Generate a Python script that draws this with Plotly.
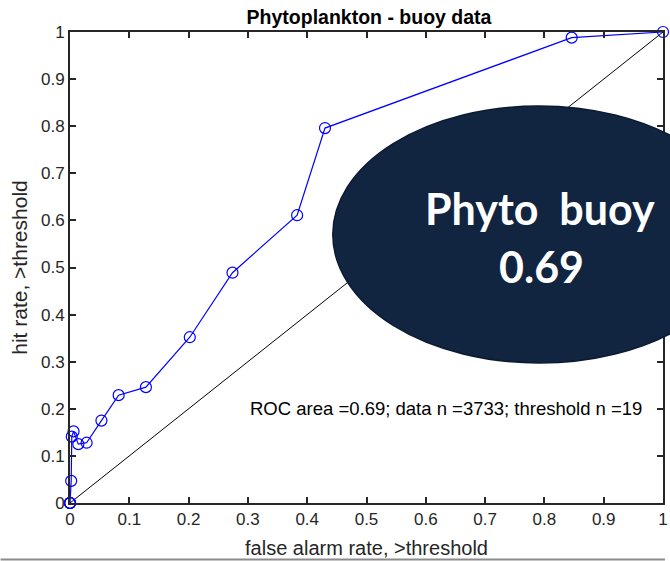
import plotly.graph_objects as go

# ROC curve points (false alarm rate, hit rate), one per threshold
false_alarm = [0.0, 0.0, 0.0, 0.0, 0.0, 0.002, 0.003, 0.006, 0.014, 0.028,
               0.053, 0.082, 0.128, 0.202, 0.274, 0.383, 0.430, 0.846, 1.0]
hit_rate = [0.0, 0.0, 0.0, 0.0, 0.0, 0.047, 0.141, 0.152, 0.125, 0.128,
            0.175, 0.229, 0.246, 0.352, 0.489, 0.611, 0.796, 0.988, 1.0]

# No-skill reference line
ref_x = [0, 1]
ref_y = [0, 1]

roc_area = 0.69
data_n = 3733
threshold_n = 19

tick_vals = [0, 0.1, 0.2, 0.3, 0.4, 0.5, 0.6, 0.7, 0.8, 0.9, 1]
tick_text = ["0", "0.1", "0.2", "0.3", "0.4", "0.5", "0.6", "0.7", "0.8", "0.9", "1"]

AXIS_COLOR = "#262626"
FONT = "Liberation Sans, Arial, sans-serif"

fig = go.Figure()
fig.add_trace(go.Scatter(x=ref_x, y=ref_y, mode="lines",
                         line=dict(color="black", width=1),
                         hoverinfo="skip", showlegend=False))
fig.add_trace(go.Scatter(x=false_alarm, y=hit_rate, mode="lines+markers",
                         line=dict(color="#0000ff", width=1.2),
                         marker=dict(symbol="circle-open", size=11,
                                     color="#0000ff", line=dict(width=1.2)),
                         cliponaxis=False, showlegend=False))

axis_common = dict(
    range=[0, 1], tickvals=tick_vals, ticktext=tick_text,
    ticks="inside", ticklen=6, tickwidth=1.5, tickcolor=AXIS_COLOR,
    showline=True, linecolor=AXIS_COLOR, linewidth=2, mirror="ticks",
    showgrid=False, zeroline=False, ticklabeloverflow="allow",
    tickfont=dict(family=FONT, size=17, color="#262626"),
)

fig.update_layout(
    width=670, height=561,
    margin=dict(l=70, r=2, t=32, b=58),
    paper_bgcolor="white", plot_bgcolor="white",
    title=dict(text="<b>Phytoplankton - buoy data</b>",
               x=369 / 670, xanchor="center",
               y=1 - 17 / 561, yanchor="middle",
               font=dict(family=FONT, size=19.5, color="black")),
    xaxis=dict(axis_common,
               title=dict(text="false alarm rate, >threshold", standoff=13,
                          font=dict(family=FONT, size=20, color="#262626"))),
    yaxis=dict(axis_common,
               title=dict(text="hit rate, >threshold", standoff=8,
                          font=dict(family=FONT, size=21, color="#262626"))),
    showlegend=False,
)

fig.add_annotation(
    x=0.3, y=0.2, xref="x", yref="y", xanchor="left", yanchor="middle",
    text=f"ROC area ={roc_area}; data n ={data_n}; threshold n ={threshold_n}",
    showarrow=False, font=dict(family=FONT, size=18.5, color="black"),
)

# Highlight badge with the ROC score
fig.add_shape(type="circle", xref="paper", yref="paper",
              x0=(335 - 70) / 598, x1=(751 - 70) / 598,
              y0=(503 - 363) / 471, y1=(503 - 106) / 471,
              fillcolor="#112440", line=dict(color="#0b1a30", width=1.5),
              layer="above")
fig.add_annotation(
    x=(544 - 70) / 598, y=(503 - 208) / 471, xref="paper", yref="paper",
    xanchor="center", yanchor="middle", showarrow=False,
    text="<b>Phyto\u00a0\u00a0buoy</b>",
    font=dict(family="Lato, Open Sans, sans-serif", size=43, color="white"),
)
fig.add_annotation(
    x=(545 - 70) / 598, y=(503 - 266) / 471, xref="paper", yref="paper",
    xanchor="center", yanchor="middle", showarrow=False,
    text=f"<b>{roc_area}</b>",
    font=dict(family="Lato, Open Sans, sans-serif", size=43, color="white"),
)

# Thin grey rule along the bottom edge
fig.add_shape(type="line", xref="paper", yref="paper",
              x0=-70 / 598, x1=600 / 598,
              y0=(503 - 559.5) / 471, y1=(503 - 559.5) / 471,
              line=dict(color="#8c8c8c", width=2))

fig.write_html("out.html")
